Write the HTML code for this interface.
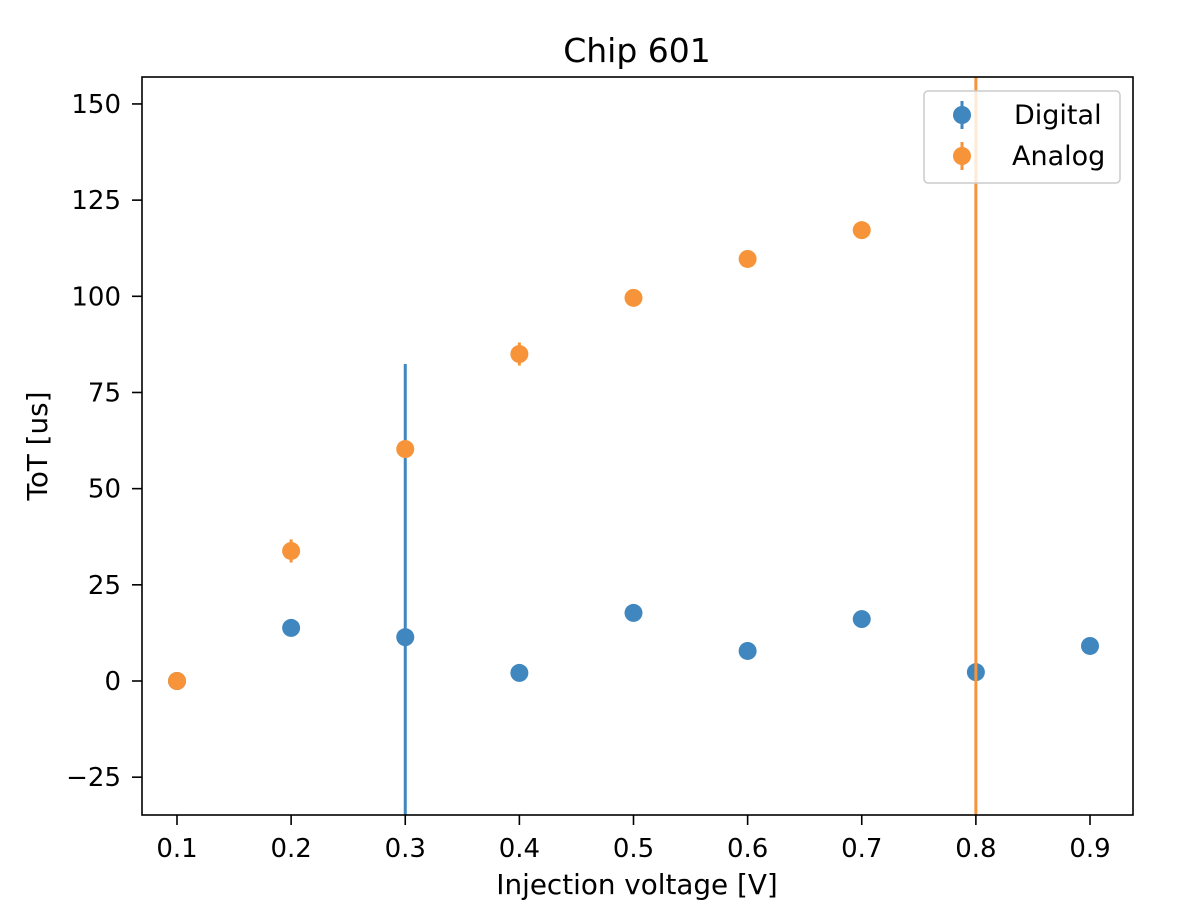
<!DOCTYPE html>
<html><head><meta charset="utf-8"><style>
html,body{margin:0;padding:0;background:#fff;overflow:hidden;width:1182px;height:918px}
svg{display:block}
svg text{font-family:"DejaVu Sans","Liberation Sans",sans-serif;fill:#000}
</style></head><body>
<svg id="chart" width="1182" height="918" viewBox="0 0 1182 918" xmlns="http://www.w3.org/2000/svg" overflow="hidden">
<defs><clipPath id="plotclip"><rect x="142" y="77" width="991" height="738"/></clipPath></defs>
<rect x="0" y="0" width="1182" height="918" fill="#fff"/>
<text x="637" y="62" font-size="33" text-anchor="middle">Chip 601</text>
<g id="xticks"></g><g id="yticks"></g>
<g id="marks" clip-path="url(#plotclip)"></g>
<rect x="142" y="77" width="991" height="738" fill="none" stroke="#000" stroke-width="1.6"/>
<text x="637" y="894" font-size="27.8" text-anchor="middle">Injection voltage [V]</text>
<text transform="translate(47,446) rotate(-90)" font-size="27.8" text-anchor="middle">ToT [us]</text>
<g>
<rect x="924" y="91" width="196" height="92" rx="4" fill="#fff" fill-opacity="0.8" stroke="#ccc" stroke-width="1.5"/>
<g>
<line x1="962" y1="101" x2="962" y2="129" stroke="#3f87be" stroke-width="3"/>
<circle cx="962" cy="115" r="9" fill="#3f87be"/>
<text x="1014" y="124" font-size="27">Digital</text></g>
<g>
<line x1="962" y1="142" x2="962" y2="170" stroke="#f7943a" stroke-width="3"/>
<circle cx="962" cy="156" r="9" fill="#f7943a"/>
<text x="1012" y="165" font-size="27">Analog</text></g>
</g>
</svg>
<script>
const xCategories=[0.1,0.2,0.3,0.4,0.5,0.6,0.7,0.8,0.9];
const digitalValues=[0,13.8,11.4,2.1,17.7,7.8,16.1,2.3,9.1];
const digitalErrors=[0,2,71,0.5,0.5,0.5,0.5,0.5,0.5];
const analogX=[0.1,0.2,0.3,0.4,0.5,0.6,0.7,0.8];
const analogValues=[0,33.8,60.3,85,99.6,109.7,117.2,null];
const analogErrors=[0,3,1,3,0.5,0.5,0.5,1000];
const xTickLabels=["0.1","0.2","0.3","0.4","0.5","0.6","0.7","0.8","0.9"];
const yTickValues=[-25,0,25,50,75,100,125,150];
const yTickLabels=["\u221225","0","25","50","75","100","125","150"];
const NS="http://www.w3.org/2000/svg";
function xs(v){return 177+(v-0.1)*1141.25;}
function ys(v){return 681-v*3.847;}
function mk(tag,attrs,parent){const e=document.createElementNS(NS,tag);for(const k in attrs)e.setAttribute(k,attrs[k]);parent.appendChild(e);return e;}
const xt=document.getElementById('xticks'),yt=document.getElementById('yticks'),m=document.getElementById('marks');
xCategories.forEach((v,i)=>{
 const l=mk('line',{x1:xs(v),x2:xs(v),y1:815,y2:825,stroke:'#000','stroke-width':1.6},xt);
 
 
 const t=mk('text',{x:xs(v),y:857,'font-size':26,'text-anchor':'middle'},xt);t.textContent=xTickLabels[i];
 
 
});
yTickValues.forEach((v,i)=>{
 const l=mk('line',{x1:132,x2:142,y1:ys(v),y2:ys(v),stroke:'#000','stroke-width':1.6},yt);
 
 
 const t=mk('text',{x:121,y:ys(v)+9,'font-size':26,'text-anchor':'end'},yt);t.textContent=yTickLabels[i];
 
 
});
function series(xv,vals,errs,color,name){
 xv.forEach((x,i)=>{
  const v=vals[i]==null?0:vals[i],e=errs[i];
  const l=mk('line',{x1:xs(x),x2:xs(x),y1:ys(v-e),y2:ys(v+e),stroke:color,'stroke-width':3},m);
  
  
  if(vals[i]!=null){
   const c=mk('circle',{cx:xs(x),cy:ys(v),r:9,fill:color},m);
   
   
  }
 });
}
series(xCategories,digitalValues,digitalErrors,'#3f87be','digital');
series(analogX,analogValues,analogErrors,'#f7943a','analog');
</script>
</body></html>
